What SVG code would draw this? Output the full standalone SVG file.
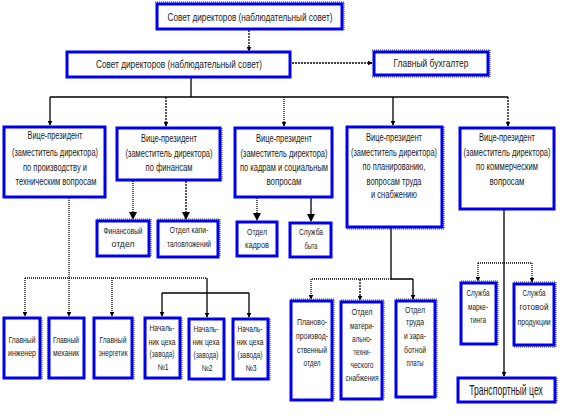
<svg xmlns="http://www.w3.org/2000/svg" width="581" height="416" viewBox="0 0 581 416">
<style>
.box{fill:#fff;stroke:#0000f0;stroke-width:3}
.sh{fill:none;stroke:#333;stroke-width:1;stroke-dasharray:1 1}
text{font-family:"Liberation Sans",Arial,sans-serif;fill:#1a1a1a;text-anchor:middle}
.t11{font-size:11px}
.t10{font-size:10px}
.t8{font-size:8.5px}
.t14{font-size:14px}
.c{fill:none;stroke:#000;stroke-width:1.3}
.dash{stroke-dasharray:2 1}
.dot{stroke-dasharray:1 1}
</style>
<defs>
<marker id="a" viewBox="0 0 8 8" refX="7" refY="4" markerWidth="5" markerHeight="5" orient="auto" markerUnits="userSpaceOnUse"><path d="M0,0 L8,4 L0,8 z" fill="#000"/></marker>
<marker id="b" viewBox="0 0 8 8" refX="7" refY="4" markerWidth="8" markerHeight="8" orient="auto" markerUnits="userSpaceOnUse"><path d="M0,0 L8,4 L0,8 z" fill="#000"/></marker>
</defs>

<g id="connectors">
<path class="c dash" d="M249,30 V51" marker-end="url(#a)"/>
<path class="c dash" d="M292,63 H372" marker-end="url(#a)"/>
<path class="c" d="M191,78 V97 M50,97 H508"/>
<path class="c" d="M50,97 V125" marker-end="url(#a)"/>
<path class="c dash" d="M166,97 V126" marker-end="url(#a)"/>
<path class="c dot" d="M284,97 V126" marker-end="url(#a)"/>
<path class="c" d="M393,97 V125" marker-end="url(#a)"/>
<path class="c dash" d="M508,97 V126" marker-end="url(#a)"/>
<path class="c dot" d="M133,181 V219" marker-end="url(#b)"/>
<path class="c dash" d="M186,181 V219" marker-end="url(#b)"/>
<path class="c dot" d="M257,198 V220" marker-end="url(#b)"/>
<path class="c" d="M311,198 V221" marker-end="url(#b)"/>
<path class="c dot" d="M69,198 V278 M25,278 H207"/>
<path class="c dot" d="M25,278 V316" marker-end="url(#a)"/>
<path class="c dot" d="M69,278 V316" marker-end="url(#a)"/>
<path class="c dot" d="M112,278 V316" marker-end="url(#a)"/>
<path class="c" d="M207,278 V317" marker-end="url(#a)"/>
<path class="c" d="M162,293 H249"/>
<path class="c" d="M162,293 V316" marker-end="url(#a)"/>
<path class="c" d="M249,293 V317" marker-end="url(#a)"/>
<path class="c" d="M391,228 V279 H413"/>
<path class="c dot" d="M391,279 H311 V299" marker-end="url(#a)"/>
<path class="c dash" d="M360,279 V300" marker-end="url(#a)"/>
<path class="c" d="M413,279 V299" marker-end="url(#a)"/>
<path class="c" d="M504,210 V376" marker-end="url(#a)"/>
<path class="c dot" d="M478,263 H532"/>
<path class="c dot" d="M478,263 V281" marker-end="url(#a)"/>
<path class="c dot" d="M532,263 V282" marker-end="url(#a)"/>
</g>

<g id="n_top">
<path class="sh" d="M155,2 H344 V31"/>
<rect class="box" x="157" y="4" width="185" height="25"/>
<text class="t11" x="250" y="21" textLength="165" lengthAdjust="spacingAndGlyphs">Совет директоров (наблюдательный совет)</text>
</g>
<g id="n_board">
<rect class="box" x="67" y="52" width="223" height="25"/>
<text class="t11" x="179" y="68" textLength="166" lengthAdjust="spacingAndGlyphs">Совет директоров (наблюдательный совет)</text>
</g>
<g id="n_acc">
<path class="sh" d="M372,50 H490 V77 H372"/>
<rect class="box" x="374" y="52" width="114" height="23"/>
<text class="t11" x="431" y="67" textLength="75" lengthAdjust="spacingAndGlyphs">Главный бухгалтер</text>
</g>

<g id="vp1">
<rect class="box" x="4" y="127" width="101" height="70"/>
<text class="t10" x="55" y="139" textLength="55" lengthAdjust="spacingAndGlyphs">Вице-президент</text>
<text class="t10" x="55" y="156" textLength="86" lengthAdjust="spacingAndGlyphs">(заместитель директора)</text>
<text class="t10" x="55" y="171" textLength="64" lengthAdjust="spacingAndGlyphs">по производству  и</text>
<text class="t10" x="56" y="185" textLength="81" lengthAdjust="spacingAndGlyphs">техническим вопросам</text>
</g>
<g id="vp2">
<path class="sh" d="M222,128 V182"/>
<rect class="box" x="117" y="128" width="103" height="52"/>
<text class="t10" x="169" y="142" textLength="56" lengthAdjust="spacingAndGlyphs">Вице-президент</text>
<text class="t10" x="169" y="157" textLength="87" lengthAdjust="spacingAndGlyphs">(заместитель директора)</text>
<text class="t10" x="169" y="171" textLength="47" lengthAdjust="spacingAndGlyphs">по финансам</text>
</g>
<g id="vp3">
<rect class="box" x="235" y="128" width="97" height="69"/>
<text class="t10" x="284" y="142" textLength="56" lengthAdjust="spacingAndGlyphs">Вице-президент</text>
<text class="t10" x="284" y="157" textLength="87" lengthAdjust="spacingAndGlyphs">(заместитель директора)</text>
<text class="t10" x="284" y="171" textLength="88" lengthAdjust="spacingAndGlyphs">по  кадрам и социальным</text>
<text class="t10" x="284" y="185" textLength="35" lengthAdjust="spacingAndGlyphs">вопросам</text>
</g>
<g id="vp4">
<path class="sh" d="M444,127 V229 H347"/>
<rect class="box" x="347" y="127" width="95" height="100"/>
<text class="t10" x="394" y="141" textLength="56" lengthAdjust="spacingAndGlyphs">Вице-президент</text>
<text class="t10" x="394" y="156" textLength="86" lengthAdjust="spacingAndGlyphs">(заместитель директора)</text>
<text class="t10" x="394" y="170" textLength="63" lengthAdjust="spacingAndGlyphs">по  планированию,</text>
<text class="t10" x="394" y="185" textLength="55" lengthAdjust="spacingAndGlyphs">вопросам труда</text>
<text class="t10" x="394" y="198" textLength="46" lengthAdjust="spacingAndGlyphs">и снабжению</text>
</g>
<g id="vp5">
<rect class="box" x="460" y="128" width="94" height="81"/>
<text class="t10" x="507" y="141" textLength="56" lengthAdjust="spacingAndGlyphs">Вице-президент</text>
<text class="t10" x="507" y="156" textLength="87" lengthAdjust="spacingAndGlyphs">(заместитель директора)</text>
<text class="t10" x="507" y="170" textLength="62" lengthAdjust="spacingAndGlyphs">по коммерческим</text>
<text class="t10" x="507" y="185" textLength="35" lengthAdjust="spacingAndGlyphs">вопросам</text>
</g>

<g id="fin">
<path class="sh" d="M97,219 H151 V256"/>
<rect class="box" x="97" y="221" width="52" height="35"/>
<text class="t8" x="123" y="234" textLength="39" lengthAdjust="spacingAndGlyphs">Финансовый</text>
<text class="t8" x="123" y="247" textLength="23" lengthAdjust="spacingAndGlyphs">отдел</text>
</g>
<g id="cap">
<path class="sh" d="M158,219 H220 V257"/>
<rect class="box" x="158" y="221" width="60" height="36"/>
<text class="t8" x="189" y="233" textLength="39" lengthAdjust="spacingAndGlyphs">Отдел капи-</text>
<text class="t8" x="189" y="247" textLength="44" lengthAdjust="spacingAndGlyphs">таловложений</text>
</g>
<g id="hr">
<rect class="box" x="237" y="222" width="40" height="34"/>
<text class="t8" x="257" y="235" textLength="20" lengthAdjust="spacingAndGlyphs">Отдел</text>
<text class="t8" x="257" y="248" textLength="24" lengthAdjust="spacingAndGlyphs">кадров</text>
</g>
<g id="life">
<rect class="box" x="290" y="223" width="41" height="34"/>
<text class="t8" x="311" y="235" textLength="24" lengthAdjust="spacingAndGlyphs">Служба</text>
<text class="t8" x="311" y="249" textLength="13" lengthAdjust="spacingAndGlyphs">быта</text>
</g>

<g id="eng">
<path class="sh" d="M42,318 V380"/>
<rect class="box" x="4" y="318" width="36" height="60"/>
<text class="t8" x="22" y="343" textLength="27" lengthAdjust="spacingAndGlyphs">Главный</text>
<text class="t8" x="22" y="356" textLength="28" lengthAdjust="spacingAndGlyphs">инженер</text>
</g>
<g id="mech">
<path class="sh" d="M48,318 V380"/>
<rect class="box" x="49" y="318" width="35" height="60"/>
<text class="t8" x="66" y="343" textLength="26" lengthAdjust="spacingAndGlyphs">Главный</text>
<text class="t8" x="66" y="356" textLength="26" lengthAdjust="spacingAndGlyphs">механик</text>
</g>
<g id="energ">
<path class="sh" d="M134,318 V380"/>
<rect class="box" x="94" y="318" width="38" height="60"/>
<text class="t8" x="113" y="343" textLength="27" lengthAdjust="spacingAndGlyphs">Главный</text>
<text class="t8" x="113" y="356" textLength="29" lengthAdjust="spacingAndGlyphs">энергетик</text>
</g>
<g id="shop1">
<path class="sh" d="M182,318 V380"/>
<rect class="box" x="145" y="318" width="35" height="60"/>
<text class="t8" x="162" y="331" textLength="25" lengthAdjust="spacingAndGlyphs">Началь-</text>
<text class="t8" x="162" y="345" textLength="27" lengthAdjust="spacingAndGlyphs">ник цеха</text>
<text class="t8" x="162" y="357" textLength="25" lengthAdjust="spacingAndGlyphs">(завода)</text>
<text class="t8" x="163" y="370" textLength="11" lengthAdjust="spacingAndGlyphs">№1</text>
</g>
<g id="shop2">
<rect class="box" x="189" y="319" width="35" height="60"/>
<text class="t8" x="206" y="332" textLength="25" lengthAdjust="spacingAndGlyphs">Началь-</text>
<text class="t8" x="206" y="345" textLength="27" lengthAdjust="spacingAndGlyphs">ник цеха</text>
<text class="t8" x="206" y="358" textLength="25" lengthAdjust="spacingAndGlyphs">(завода)</text>
<text class="t8" x="207" y="371" textLength="11" lengthAdjust="spacingAndGlyphs">№2</text>
</g>
<g id="shop3">
<path class="sh" d="M270,319 V381"/>
<rect class="box" x="233" y="319" width="35" height="60"/>
<text class="t8" x="250" y="332" textLength="25" lengthAdjust="spacingAndGlyphs">Началь-</text>
<text class="t8" x="250" y="345" textLength="27" lengthAdjust="spacingAndGlyphs">ник цеха</text>
<text class="t8" x="250" y="358" textLength="25" lengthAdjust="spacingAndGlyphs">(завода)</text>
<text class="t8" x="251" y="371" textLength="11" lengthAdjust="spacingAndGlyphs">№3</text>
</g>

<g id="plan">
<path class="sh" d="M291,299 H334 V400"/>
<rect class="box" x="291" y="301" width="41" height="99"/>
<text class="t8" x="312" y="325" textLength="30" lengthAdjust="spacingAndGlyphs">Планово-</text>
<text class="t8" x="312" y="339" textLength="32" lengthAdjust="spacingAndGlyphs">производ-</text>
<text class="t8" x="312" y="353" textLength="30" lengthAdjust="spacingAndGlyphs">ственный</text>
<text class="t8" x="312" y="366" textLength="17" lengthAdjust="spacingAndGlyphs">отдел</text>
</g>
<g id="mts">
<path class="sh" d="M341,300 H384 V399"/>
<rect class="box" x="341" y="302" width="41" height="97"/>
<text class="t8" x="362" y="315" textLength="21" lengthAdjust="spacingAndGlyphs">Отдел</text>
<text class="t8" x="362" y="329" textLength="24" lengthAdjust="spacingAndGlyphs">матери-</text>
<text class="t8" x="362" y="342" textLength="20" lengthAdjust="spacingAndGlyphs">ально-</text>
<text class="t8" x="362" y="355" textLength="17" lengthAdjust="spacingAndGlyphs">техни-</text>
<text class="t8" x="362" y="368" textLength="23" lengthAdjust="spacingAndGlyphs">ческого</text>
<text class="t8" x="362" y="381" textLength="33" lengthAdjust="spacingAndGlyphs">снабжения</text>
</g>
<g id="labor">
<path class="sh" d="M396,299 H437 V397"/>
<rect class="box" x="396" y="301" width="39" height="96"/>
<text class="t8" x="415" y="313" textLength="20" lengthAdjust="spacingAndGlyphs">Отдел</text>
<text class="t8" x="415" y="325" textLength="18" lengthAdjust="spacingAndGlyphs">труда</text>
<text class="t8" x="415" y="339" textLength="22" lengthAdjust="spacingAndGlyphs">и зара-</text>
<text class="t8" x="415" y="353" textLength="22" lengthAdjust="spacingAndGlyphs">ботной</text>
<text class="t8" x="415" y="366" textLength="17" lengthAdjust="spacingAndGlyphs">платы</text>
</g>
<g id="mkt">
<path class="sh" d="M461,281 H498 V345"/>
<rect class="box" x="461" y="283" width="35" height="61"/>
<text class="t8" x="478" y="296" textLength="23" lengthAdjust="spacingAndGlyphs">Служба</text>
<text class="t8" x="478" y="310" textLength="20" lengthAdjust="spacingAndGlyphs">марке-</text>
<text class="t8" x="478" y="323" textLength="16" lengthAdjust="spacingAndGlyphs">тинга</text>
</g>
<g id="prod">
<path class="sh" d="M514,282 H556 V347 H514"/>
<rect class="box" x="514" y="284" width="40" height="61"/>
<text class="t8" x="534" y="296" textLength="23" lengthAdjust="spacingAndGlyphs">Служба</text>
<text class="t8" x="534" y="310" textLength="29" lengthAdjust="spacingAndGlyphs">готовой</text>
<text class="t8" x="534" y="325" textLength="33" lengthAdjust="spacingAndGlyphs">продукции</text>
</g>
<g id="trans">
<path class="sh" d="M557,378 V402"/>
<rect class="box" x="458" y="378" width="97" height="24"/>
<text class="t14" transform="translate(506,395) scale(0.62,1)" x="0" y="0">Транспортный цех</text>
</g>
</svg>
